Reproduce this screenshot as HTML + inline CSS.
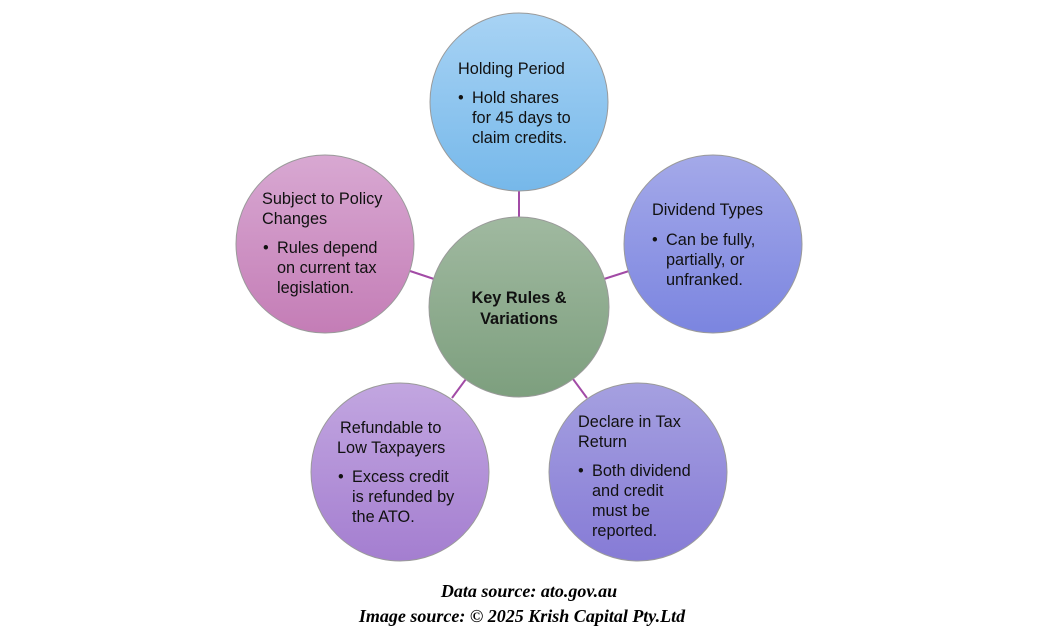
<!DOCTYPE html>
<html><head><meta charset="utf-8"><style>
html,body{margin:0;padding:0;background:#fff;}
svg{display:block;}
text{font-family:"Liberation Sans",sans-serif;font-size:16.3px;fill:#111;}
.cap{font-family:"Liberation Serif",serif;font-weight:bold;font-style:italic;font-size:18px;fill:#000;}
</style></head><body>
<svg width="1058" height="638" viewBox="0 0 1058 638" xmlns="http://www.w3.org/2000/svg">
<defs>
<linearGradient id="gc" x1="0" y1="0" x2="0" y2="1"><stop offset="0" stop-color="#a0b9a0"/><stop offset="1" stop-color="#7d9f7e"/></linearGradient>
<linearGradient id="g1" x1="0" y1="0" x2="0" y2="1"><stop offset="0" stop-color="#a8d3f4"/><stop offset="1" stop-color="#76b8ea"/></linearGradient>
<linearGradient id="g2" x1="0" y1="0" x2="0" y2="1"><stop offset="0" stop-color="#a4a9e9"/><stop offset="1" stop-color="#7b85e0"/></linearGradient>
<linearGradient id="g3" x1="0" y1="0" x2="0" y2="1"><stop offset="0" stop-color="#a5a0e0"/><stop offset="1" stop-color="#867bd6"/></linearGradient>
<linearGradient id="g4" x1="0" y1="0" x2="0" y2="1"><stop offset="0" stop-color="#c2a6e0"/><stop offset="1" stop-color="#a47ed0"/></linearGradient>
<linearGradient id="g5" x1="0" y1="0" x2="0" y2="1"><stop offset="0" stop-color="#d8a8d2"/><stop offset="1" stop-color="#c47db6"/></linearGradient>
</defs>
<g stroke="#a24ba6" stroke-width="2">
<line x1="519" y1="191" x2="519" y2="218"/>
<line x1="604" y1="279" x2="629" y2="271"/>
<line x1="573" y1="379" x2="587" y2="398"/>
<line x1="466" y1="379" x2="452" y2="398"/>
<line x1="434" y1="279" x2="410" y2="271"/>
</g>
<g stroke="#9a9a9a" stroke-width="1">
<circle cx="519" cy="307" r="90" fill="url(#gc)"/>
<circle cx="519" cy="102" r="89" fill="url(#g1)"/>
<circle cx="713" cy="244" r="89" fill="url(#g2)"/>
<circle cx="638" cy="472" r="89" fill="url(#g3)"/>
<circle cx="400" cy="472" r="89" fill="url(#g4)"/>
<circle cx="325" cy="244" r="89" fill="url(#g5)"/>
</g>
<text x="519" y="303" text-anchor="middle" font-weight="bold">Key Rules &amp;</text>
<text x="519" y="324" text-anchor="middle" font-weight="bold">Variations</text>

<text x="458" y="74">Holding Period</text>
<text x="458" y="103">•</text><text x="472" y="103">Hold shares</text>
<text x="472" y="123">for 45 days to</text>
<text x="472" y="143">claim credits.</text>

<text x="652" y="215">Dividend Types</text>
<text x="652" y="245">•</text><text x="666" y="245">Can be fully,</text>
<text x="666" y="265">partially, or</text>
<text x="666" y="285">unfranked.</text>

<text x="578" y="427">Declare in Tax</text>
<text x="578" y="447">Return</text>
<text x="578" y="476">•</text><text x="592" y="476">Both dividend</text>
<text x="592" y="496">and credit</text>
<text x="592" y="516">must be</text>
<text x="592" y="536">reported.</text>

<text x="340" y="433">Refundable to</text>
<text x="337" y="453">Low Taxpayers</text>
<text x="338" y="482">•</text><text x="352" y="482">Excess credit</text>
<text x="352" y="502">is refunded by</text>
<text x="352" y="522">the ATO.</text>

<text x="262" y="204">Subject to Policy</text>
<text x="262" y="224">Changes</text>
<text x="263" y="253">•</text><text x="277" y="253">Rules depend</text>
<text x="277" y="273">on current tax</text>
<text x="277" y="293">legislation.</text>

<text class="cap" x="529" y="597" text-anchor="middle">Data source: ato.gov.au</text>
<text class="cap" x="522" y="622" text-anchor="middle">Image source: © 2025 Krish Capital Pty.Ltd</text>
</svg>
</body></html>
